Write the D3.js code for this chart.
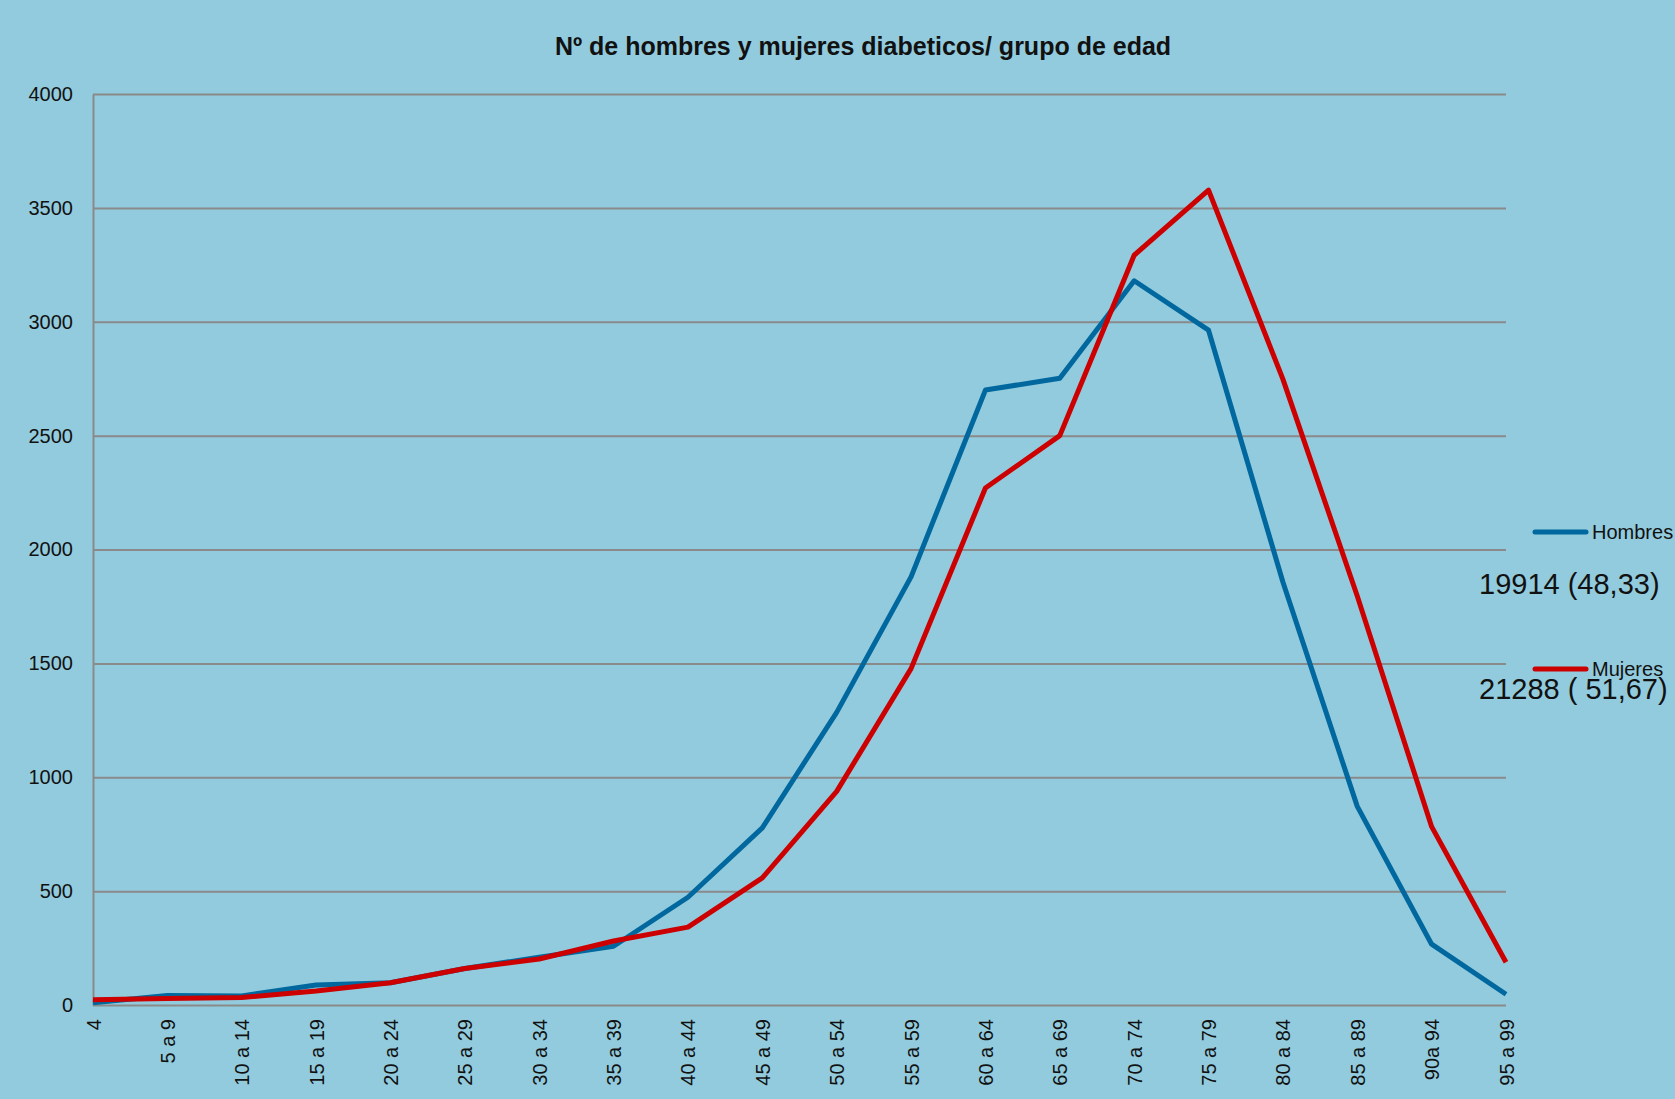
<!DOCTYPE html>
<html>
<head>
<meta charset="utf-8">
<script src="https://cdn.jsdelivr.net/npm/d3@7"></script>
<style>
  body { margin: 0; background: #92cbdd; }
  svg { display: block; font-family: "Liberation Sans", Arial, sans-serif; }
</style>
</head>
<body>
<svg id="svg"></svg>
<script>
const categories = ["4", "5 a 9", "10 a 14", "15 a 19", "20 a 24", "25 a 29", "30 a 34", "35 a 39",
    "40 a 44", "45 a 49", "50 a 54", "55 a 59", "60 a 64", "65 a 69", "70 a 74", "75 a 79",
    "80 a 84", "85 a 89", "90a 94", "95 a 99"];
const hombres = [10, 42, 40, 88, 98, 160, 210, 258, 473, 778, 1285, 1880, 2700, 2752, 3180, 2963, 1857, 872, 267, 47];
const mujeres = [23, 28, 33, 61, 98, 160, 202, 281, 342, 558, 938, 1477, 2270, 2500, 3292, 3578, 2748, 1796, 783, 188];
const yTicks = [0, 500, 1000, 1500, 2000, 2500, 3000, 3500, 4000];
const seriesNames = ["Hombres", "Mujeres"];
const seriesNotes = ["19914 (48,33)", "21288 ( 51,67)"];
const colors = ["#00689e", "#cc0000"];

const W = 1675, H = 1099;
const margin = { top: 94, right: 169, bottom: 94, left: 93 };
const width = W - margin.left - margin.right,
    height = H - margin.top - margin.bottom;

const svg = d3.select("#svg").attr("width", W).attr("height", H);

svg.append("rect").attr("width", W).attr("height", H).attr("fill", "#92cbdd");

svg.append("text")
    .attr("x", 863).attr("y", 55)
    .attr("text-anchor", "middle")
    .attr("font-size", 25).attr("font-weight", "bold")
    .attr("fill", "#111")
    .text("Nº de hombres y mujeres diabeticos/ grupo de edad");

const g = svg.append("g")
    .attr("transform", "translate(" + margin.left + "," + margin.top + ")");

const x = d3.scalePoint().domain(categories).range([0, width]).padding(0);
const y = d3.scaleLinear().domain([0, 4000]).range([height, 0]);

// gridlines
g.append("g")
    .call(d3.axisLeft(y).tickValues(yTicks).tickSize(-width).tickFormat(""))
    .call(a => a.select(".domain").remove())
    .selectAll("line").attr("stroke", "#8a8a8a").attr("stroke-width", 2);

// y axis
g.append("g")
    .call(d3.axisLeft(y).tickValues(yTicks).tickSize(0).tickPadding(20).tickFormat(d3.format("d")))
    .call(a => a.select(".domain").attr("stroke", "#8a8a8a").attr("stroke-width", 2))
    .selectAll("text").attr("font-size", 20).attr("fill", "#111");

// x axis
const xa = g.append("g")
    .attr("transform", "translate(0," + height + ")")
    .call(d3.axisBottom(x).tickSize(0))
    .call(a => a.select(".domain").remove());
xa.selectAll("text")
    .attr("font-size", 20).attr("fill", "#111")
    .attr("text-anchor", "end")
    .attr("transform", "rotate(-90)")
    .attr("x", -14).attr("y", 0).attr("dy", "0.35em");

const line = d3.line()
    .x((d, i) => x(categories[i]))
    .y(d => y(d));

[hombres, mujeres].forEach((s, k) => {
    g.append("path")
        .datum(s)
        .attr("fill", "none")
        .attr("stroke", colors[k])
        .attr("stroke-width", 5)
        .attr("stroke-linejoin", "round")
        .attr("d", line);
});

// legend
const legY = [532, 669];
seriesNames.forEach((n, k) => {
    svg.append("line")
        .attr("x1", 1535).attr("x2", 1586)
        .attr("y1", legY[k]).attr("y2", legY[k])
        .attr("stroke", colors[k]).attr("stroke-width", 5)
        .attr("stroke-linecap", "round");
    svg.append("text")
        .attr("x", 1592).attr("y", legY[k]).attr("dy", "0.35em")
        .attr("font-size", 20).attr("fill", "#111")
        .text(n);
});
svg.append("text").attr("x", 1479).attr("y", 594)
    .attr("font-size", 29).attr("fill", "#111").text(seriesNotes[0]);
svg.append("text").attr("x", 1479).attr("y", 699)
    .attr("font-size", 29).attr("fill", "#111").text(seriesNotes[1]);
</script>
</body>
</html>
